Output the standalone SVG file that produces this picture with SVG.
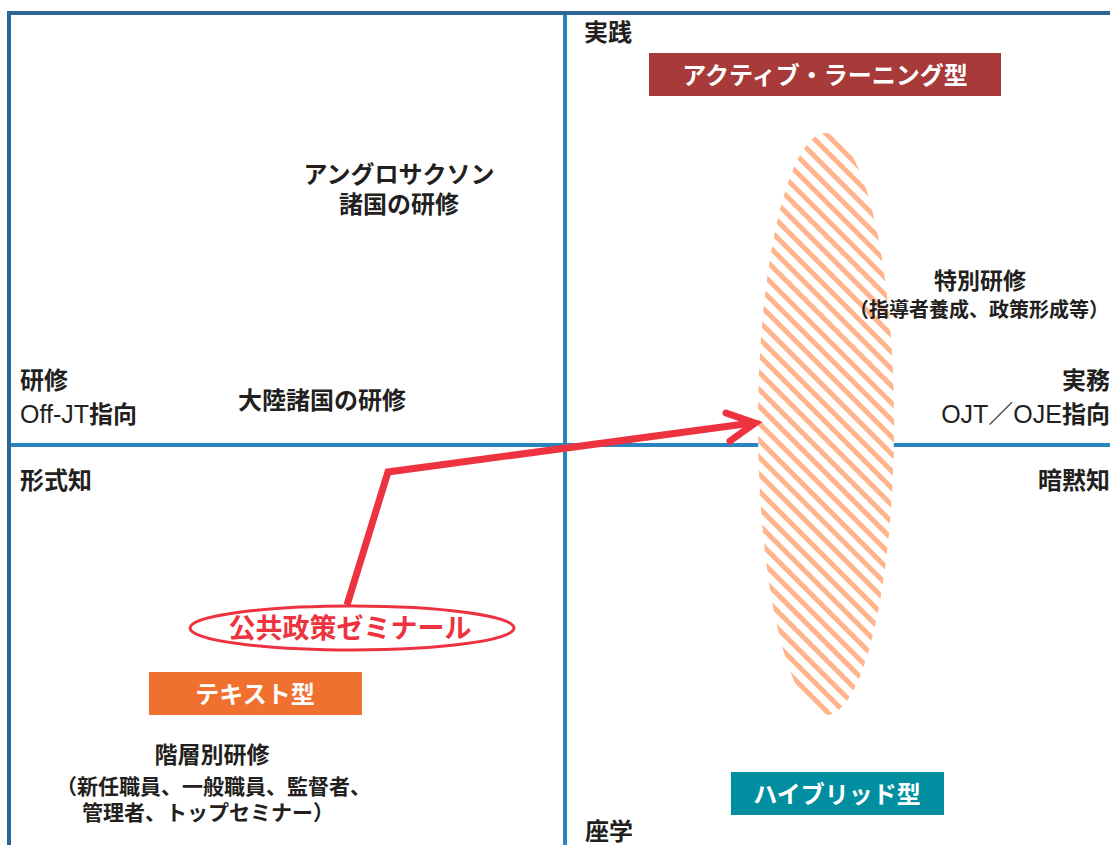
<svg xmlns="http://www.w3.org/2000/svg" width="1110" height="845" viewBox="0 0 1110 845">
<defs>
<style>
.t{font-family:"Noto Sans CJK JP","Liberation Sans",sans-serif;fill:#231f20;font-weight:bold}
.n{font-weight:normal;font-family:"Liberation Sans","Noto Sans CJK JP",sans-serif}
.b{font-family:"Noto Sans CJK JP","Liberation Sans",sans-serif;fill:#fff;font-size:24px;font-weight:bold;text-anchor:middle}
.ax{stroke:#2a84bf;stroke-width:4;fill:none}
</style>
<pattern id="hatch" patternUnits="userSpaceOnUse" width="12" height="12" patternTransform="rotate(45)">
<rect width="12" height="12" fill="#fff"/>
<rect x="0" y="0" width="12" height="5" fill="#ffb48c"/>
</pattern>
</defs>
<rect width="1110" height="845" fill="#fff"/>
<g id="frame">
<line class="ax" x1="565" y1="13" x2="565" y2="845"/>
<line class="ax" x1="9" y1="445" x2="1110" y2="445"/>
<path d="M9 845 V13 H1110" stroke="#2b6694" stroke-width="4" fill="none"/>
</g>
<g id="zone">
<ellipse cx="826" cy="424" rx="68" ry="291" fill="url(#hatch)"/>
</g>
<g id="connectors">
<polyline points="347,605 388,472 752,423" fill="none" stroke="#ee3340" stroke-width="7" stroke-linejoin="miter"/>
<polyline points="726,413 755,423 730,441" fill="none" stroke="#ee3340" stroke-width="7" stroke-linecap="round" stroke-linejoin="miter"/>
</g>
<g id="seminar">
<ellipse cx="352" cy="628" rx="162" ry="22" fill="#fff" stroke="#ee3340" stroke-width="3"/>
<text x="350" y="638" font-family="Noto Sans CJK JP,Liberation Sans,sans-serif" font-size="27" font-weight="bold" fill="#ee3340" text-anchor="middle">公共政策ゼミナール</text>
</g>
<g id="active">
<rect x="649" y="53" width="352" height="43" fill="#a83a3a"/>
<text class="b" x="825" y="84">アクティブ・ラーニング型</text>
</g>
<g id="text-type">
<rect x="149" y="672" width="213" height="43" fill="#f07030"/>
<text class="b" x="255" y="703">テキスト型</text>
</g>
<g id="hybrid">
<rect x="731" y="772" width="213" height="43" fill="#008ea0"/>
<text class="b" x="837" y="803">ハイブリッド型</text>
</g>
<g id="labels">
<text class="t" x="584" y="41" font-size="24">実践</text>
<text class="t" x="585" y="840" font-size="24">座学</text>
<text class="t" x="20" y="389" font-size="24">研修</text>
<text class="t" x="20" y="423" font-size="24"><tspan class="n" font-size="25">Off-JT</tspan>指向</text>
<text class="t" x="1110" y="389" font-size="24" text-anchor="end">実務</text>
<text class="t" x="1110" y="423" font-size="24" text-anchor="end"><tspan class="n" font-size="25">OJT／OJE</tspan>指向</text>
<text class="t" x="20" y="489" font-size="24">形式知</text>
<text class="t" x="1110" y="489" font-size="24" text-anchor="end">暗黙知</text>
<text class="t" x="322" y="409" font-size="24" text-anchor="middle">大陸諸国の研修</text>
<text class="t" font-size="24" text-anchor="middle"><tspan x="399" y="183">アングロサクソン</tspan><tspan x="399" y="213">諸国の研修</tspan></text>
<text class="t" text-anchor="middle"><tspan x="980" y="289" font-size="23">特別研修</tspan><tspan x="979" y="317" font-size="20">（指導者養成、政策形成等）</tspan></text>
<text class="t" font-size="21"><tspan x="212" y="763" font-size="23" text-anchor="middle">階層別研修</tspan><tspan x="56" y="794">（新任職員、一般職員、監督者、</tspan><tspan x="82" y="820">管理者、トップセミナー）</tspan></text>
</g>
</svg>
